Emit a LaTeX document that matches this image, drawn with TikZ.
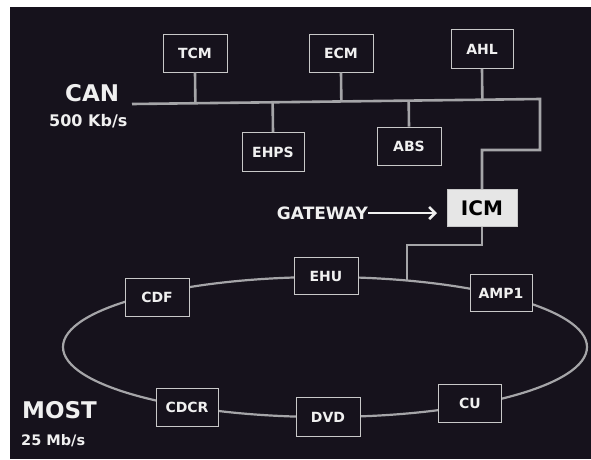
\documentclass[tikz,border=0pt]{standalone}
\usepackage{fontspec}
\setmainfont{DejaVu Sans}
\usetikzlibrary{arrows.meta,calc}
\definecolor{bg}{RGB}{22,18,28}
\definecolor{wire}{RGB}{165,165,168}
\definecolor{boxline}{RGB}{200,200,200}
\definecolor{txt}{RGB}{240,240,240}
\definecolor{icmfill}{RGB}{230,230,230}
\tikzset{
  ecu/.style={draw=boxline, line width=0.9pt, fill=bg, text=txt,
    font=\fontsize{14}{15}\selectfont\bfseries,
    minimum width=64pt, minimum height=38pt, inner sep=0pt},
  gw/.style={draw=boxline, line width=0.9pt, fill=icmfill, text=black,
    font=\fontsize{20}{22}\selectfont\bfseries,
    minimum width=70pt, minimum height=37pt, inner sep=0pt},
  bus/.style={draw=wire, line width=2.6pt},
  ring/.style={draw=wire, line width=2.2pt},
  bigtitle/.style={text=txt, font=\fontsize{23}{25}\selectfont\bfseries, inner sep=0pt},
  rate/.style={text=txt, font=\fontsize{16}{18}\selectfont\bfseries, inner sep=0pt},
}
\begin{document}
\begin{tikzpicture}[x=1pt,y=-1pt]
\useasboundingbox (0,0) rectangle (591,459);
\fill[white] (0,0) rectangle (591,459);
\fill[bg] (10,7) rectangle (591,459);

% MOST ring (drawn first, hidden behind boxes)
\coordinate (ringc) at (325,347);
\draw[ring] (ringc) ellipse [x radius=262pt, y radius=70pt];
\coordinate (ringtap) at ($(ringc)+(71.8:262pt and 70pt)$);

% CAN bus
\coordinate (busL) at (132,104);
\coordinate (busR) at (540,99);
\coordinate (busD) at (540,150);
\coordinate (busE) at (482,150);

% CAN nodes
\node[ecu] (TCM) at (195,53) {TCM};
\node[ecu] (ECM) at (341,53) {ECM};
\node[ecu, minimum width=62pt, minimum height=39pt] (AHL) at (482,49) {AHL};
\node[ecu, minimum width=62pt, minimum height=39pt] (EHPS) at (273,152) {EHPS};
\node[ecu] (ABS) at (409,146) {ABS};
\node[gw] (ICM) at (482,208) {ICM};

\draw[bus] (busL) -- (busR) -- (busD) -- (busE) -- (ICM.north);
\draw[bus] (TCM.south) -- ($(busL)!(TCM.south)!(busR)$);
\draw[bus] (ECM.south) -- ($(busL)!(ECM.south)!(busR)$);
\draw[bus] (AHL.south) -- ($(busL)!(AHL.south)!(busR)$);
\draw[bus] (EHPS.north) -- ($(busL)!(EHPS.north)!(busR)$);
\draw[bus] (ABS.north) -- ($(busL)!(ABS.north)!(busR)$);

% gateway link to ring
\coordinate (gwA) at (482,245);
\draw[bus, line width=2.2pt] (ICM.south) -- (gwA) -- (gwA -| ringtap) -- (ringtap);

% MOST nodes
\node[ecu] (CDF) at (157,297) {CDF};
\node[ecu, minimum height=37pt] (EHU) at (326,276) {EHU};
\node[ecu, minimum width=62pt, minimum height=37pt] (AMP1) at (501,293) {AMP1};
\node[ecu, minimum width=63pt] (CU) at (470,403) {CU};
\node[ecu, minimum height=39pt] (DVD) at (328,417) {DVD};
\node[ecu, minimum width=62pt] (CDCR) at (187,407) {CDCR};

% labels
\node[bigtitle, anchor=south west] (CANlbl) at (65,102) {CAN};
\node[rate, anchor=north west] (CANrate) at (49,114.5) {500 Kb/s};
\node[bigtitle, anchor=south west] (MOSTlbl) at (22,419) {MOST};
\node[rate, anchor=south west, font=\fontsize{14.5}{16}\selectfont\bfseries] (MOSTrate) at (21,447) {25 Mb/s};

\node[text=txt, font=\fontsize{17}{19}\selectfont\bfseries, inner sep=0pt, anchor=east] (GW) at (368,213) {GATEWAY};
\coordinate (gwtip) at (437,213);
\draw[txt, line width=2.6pt, -{Straight Barb[length=6pt,width=12pt,line width=2.6pt]}] (GW.east) -- (gwtip);
\end{tikzpicture}
\end{document}
